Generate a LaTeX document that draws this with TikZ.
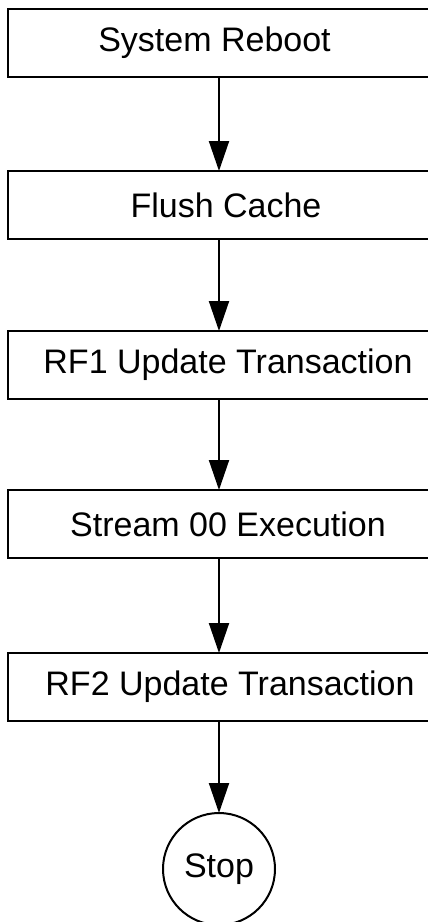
\documentclass[tikz,border=0pt]{standalone}
\usepackage{fontspec}
\setmainfont{Liberation Sans}
\usetikzlibrary{positioning,arrows.meta}

\tikzset{
  stepbox/.style={draw, line width=2pt, minimum width=440pt, minimum height=68pt,
    inner sep=0pt, outer sep=0pt, font=\fontsize{34}{40}\selectfont},
  stopnode/.style={draw, circle, line width=2pt, minimum size=112pt,
    inner sep=0pt, outer sep=0pt, font=\fontsize{34}{40}\selectfont},
  flow/.style={line width=2pt, -{Triangle[length=30pt,width=20pt]}}
}

\begin{document}
\begin{tikzpicture}[x=1pt,y=-1pt]
  \useasboundingbox (0,0) rectangle (428,922);
  \node[stepbox] (reboot) at (228,43) {\hspace*{-27pt}System Reboot};
  \node[stepbox, below=94pt of reboot] (flush) {\hspace*{-4pt}Flush Cache};
  \node[stepbox, below=92pt of flush] (rfone) {RF1 Update Transaction};
  \node[stepbox, below=91pt of rfone] (stream) {Stream 00 Execution};
  \node[stepbox, below=95pt of stream] (rftwo) {\hspace*{4pt}RF2 Update Transaction};
  \node[stopnode, below=92pt of rftwo, xshift=-9pt] (stop) {Stop};
  % arrows
  \draw[flow] (reboot.south -| stop) -- (flush.north -| stop);
  \draw[flow] (flush.south -| stop) -- (rfone.north -| stop);
  \draw[flow] (rfone.south -| stop) -- (stream.north -| stop);
  \draw[flow] (stream.south -| stop) -- (rftwo.north -| stop);
  \draw[flow] (rftwo.south -| stop) -- (stop);
\end{tikzpicture}
\end{document}
